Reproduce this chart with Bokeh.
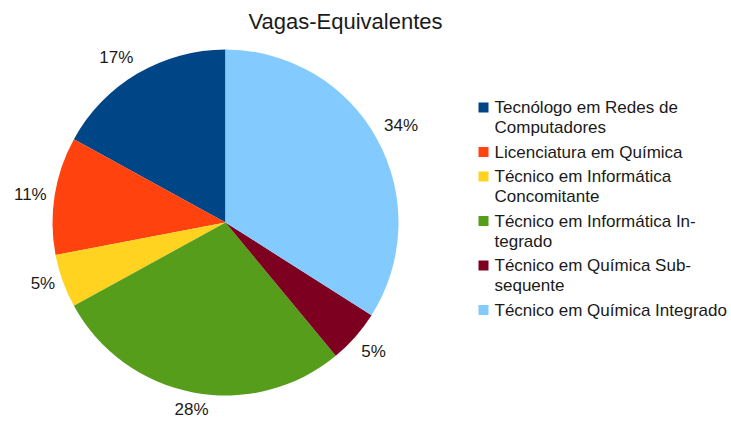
import math
from bokeh.plotting import figure
from bokeh.models import Range1d
from bokeh.core.properties import value
from bokeh.embed import file_html
from bokeh.resources import INLINE

title = "Vagas-Equivalentes"
categories = [
    "Tecnólogo em Redes de Computadores",
    "Licenciatura em Química",
    "Técnico em Informática Concomitante",
    "Técnico em Informática Integrado",
    "Técnico em Química Subsequente",
    "Técnico em Química Integrado",
]
legend_lines = [
    ["Tecnólogo em Redes de", "Computadores"],
    ["Licenciatura em Química"],
    ["Técnico em Informática", "Concomitante"],
    ["Técnico em Informática In-", "tegrado"],
    ["Técnico em Química Sub-", "sequente"],
    ["Técnico em Química Integrado"],
]
percent = [17, 11, 5, 28, 5, 34]
colors = ["#004586", "#ff420e", "#ffd320", "#579d1c", "#7e0021", "#83caff"]

W, H = 731, 421
FONT = "Liberation Sans"

p = figure(width=W, height=H, output_backend="svg", toolbar_location=None,
           x_range=Range1d(0, W), y_range=Range1d(0, H), min_border=0)
p.axis.visible = False
p.grid.visible = False
p.outline_line_color = None
p.background_fill_color = "white"

cx, cy, r = 225, H - 222, 173
total = sum(percent)
starts, ends = [], []
a = math.pi / 2
for v in percent:
    starts.append(a)
    a += 2 * math.pi * v / total
    ends.append(a)
p.wedge(x=cx, y=cy, radius=r, start_angle=starts, end_angle=ends,
        fill_color=colors, line_color=None)

# percentage labels
lx, ly, la, lb, lt = [], [], [], [], []
for s, e, v in zip(starts, ends, percent):
    m = (s + e) / 2
    c, sn = math.cos(m), math.sin(m)
    lx.append(cx + (r + 8) * c)
    ly.append(cy + (r + 8) * sn)
    la.append("left" if c > 0.3 else ("right" if c < -0.3 else "center"))
    lb.append("bottom" if sn > 0.4 else ("top" if sn < -0.4 else "middle"))
    lt.append(f"{v}%")
p.text(x=lx, y=ly, text=lt, text_align=la, text_baseline=lb,
       text_font=value(FONT), text_font_size="17px", text_color="#1a1a1a")

# title
p.text(x=[345], y=[H - 21], text=[title], text_align="center", text_baseline="middle",
       text_font=value(FONT), text_font_size="22px", text_color="#1a1a1a")

# legend
y = 107
sq_x, sq_y, tx, ty, tt = [], [], [], [], []
for lines in legend_lines:
    sq_x.append(483)
    sq_y.append(H - y)
    for i, ln in enumerate(lines):
        tx.append(494)
        ty.append(H - (y + 20 * i))
        tt.append(ln)
    y += 20 * len(lines) + 4.5
p.rect(x=sq_x, y=sq_y, width=10, height=10, fill_color=colors, line_color=None)
p.text(x=tx, y=ty, text=tt, text_align="left", text_baseline="middle",
       text_font=value(FONT), text_font_size="17px", text_color="#1a1a1a")

open("out.html", "w").write(file_html(p, INLINE))
